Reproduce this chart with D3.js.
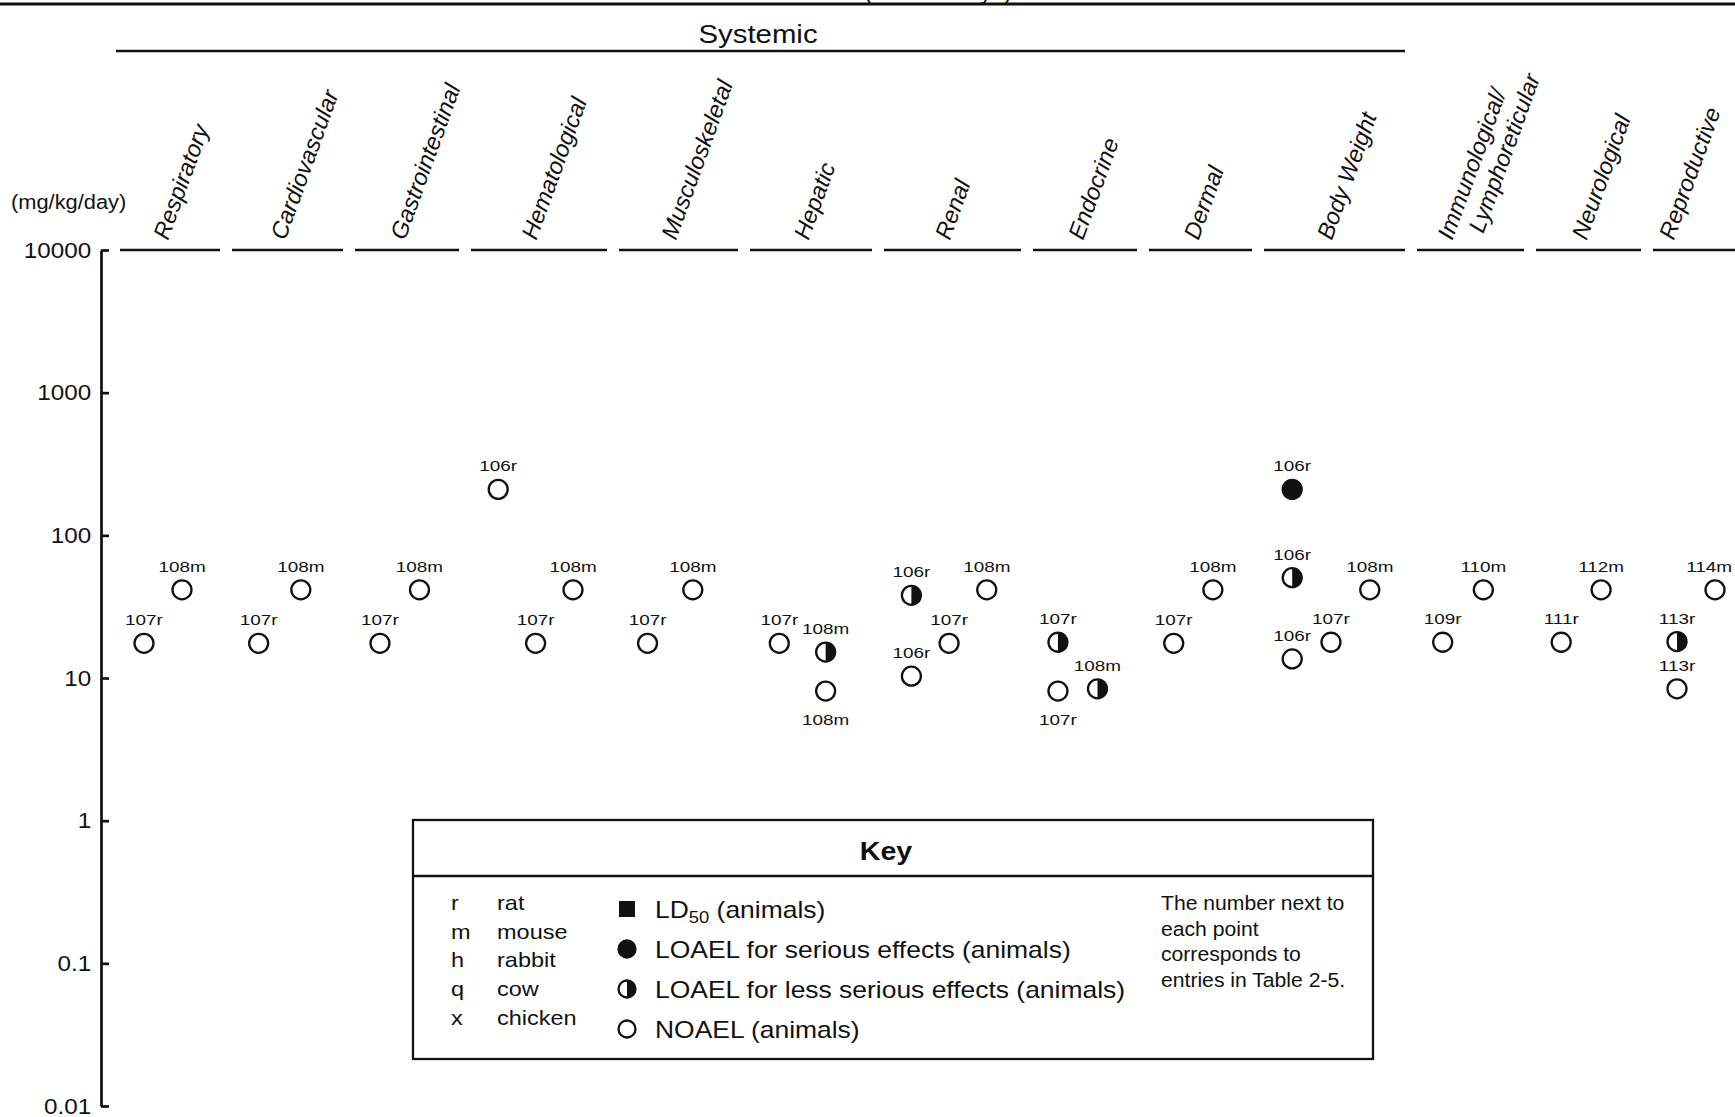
<!DOCTYPE html>
<html><head><meta charset="utf-8">
<script src="https://cdn.jsdelivr.net/npm/d3@7"></script>
<style>
body{margin:0;background:#fff}
svg{display:block}
text{font-family:"Liberation Sans",Arial,Helvetica,sans-serif;fill:#111}
</style></head>
<body><svg id="chart" width="1735" height="1117"></svg>
<script>
// ---------------- DATA ----------------
const categories = ["Respiratory","Cardiovascular","Gastrointestinal","Hematological","Musculoskeletal","Hepatic","Renal","Endocrine","Dermal","Body Weight","Immunological/\nLymphoreticular","Neurological","Reproductive"];
const groupTitle = "Systemic";
const periodTitle = "Intermediate (15-364 days)";
const yUnit = "(mg/kg/day)";
const yTickValues = [10000,1000,100,10,1,0.1,0.01];
const yTickLabels = ["10000","1000","100","10","1","0.1","0.01"];

// one entry per plotted point (parallel arrays)
const ptCategory = [0,0,1,1,2,2,3,3,3,4,4,5,5,5,6,6,6,6,7,7,7,8,8,9,9,9,9,9,10,10,11,11,12,12,12];
const ptColumn   = [0,1,0,1,0,1,0,1,2,0,1,0,1,1,0,0,1,2,0,0,1,0,1,0,0,0,1,2,0,1,0,1,0,0,1];
const ptDose     = [17.5,41.5,17.5,41.5,17.5,41.5,210,17.5,41.5,17.5,41.5,17.5,15.2,8.1,38,10.3,17.5,41.5,17.8,8.1,8.4,17.5,41.5,210,50.5,13.6,17.8,41.5,17.8,41.5,17.8,41.5,18,8.4,41.5];
const ptStudy    = [107,108,107,108,107,108,106,107,108,107,108,107,108,108,106,106,107,108,107,107,108,107,108,106,106,106,107,108,109,110,111,112,113,113,114];
const ptSpecies  = ["r","m","r","m","r","m","r","r","m","r","m","r","m","m","r","r","r","m","r","r","m","r","m","r","r","r","r","m","r","m","r","m","r","r","m"];
const ptEffect   = ["N","N","N","N","N","N","N","N","N","N","N","N","L","N","L","N","N","N","L","N","L","N","N","S","L","N","N","N","N","N","N","N","L","N","N"];

const speciesCodes = ["r","m","h","q","x"];
const speciesNames = ["rat","mouse","rabbit","cow","chicken"];
const keyEffects = ["LD50","S","L","N"];
const keyEffectTexts = ["(animals)","LOAEL for serious effects (animals)","LOAEL for less serious effects (animals)","NOAEL (animals)"];
const noteLines = ["The number next to","each point","corresponds to","entries in Table 2-5."];

// ---------------- LAYOUT ----------------
const W = 1735, H = 1117;
const AXIS_X = 101;
const BAND_X0 = 120, BAND_GAP = 12;
const BAND_WIDTHS = [100,111,104,136,119,122,137,104,103,141,107,105,100];
const LABEL_BELOW = new Set([13,19]);   // point indices whose label sits under the symbol
const R = 9.5;
const SX = 1.12;                         // horizontal stretch of the scanned lettering
const PT_SX = 1.22;
const CAT_ANGLE = 70, CAT_FONT = 23.5;

const svg = d3.select("#chart");

const y = d3.scaleLog().domain([10000, 0.01]).range([250, 1106]);

const bandStarts = [];
BAND_WIDTHS.reduce((acc, w) => { bandStarts.push(acc); return acc + w + BAND_GAP; }, BAND_X0);
const xBand = d3.scaleOrdinal().domain(d3.range(categories.length)).range(bandStarts);
const wBand = d3.scaleOrdinal().domain(d3.range(categories.length)).range(BAND_WIDTHS);

const nCols = d3.rollup(d3.range(ptCategory.length), v => d3.max(v, i => ptColumn[i]) + 1, i => ptCategory[i]);
function colScale(ci) {
  const n = nCols.get(ci) || 1, s = xBand(ci), w = wBand(ci);
  const f = n === 3 ? [0.2, 0.75] : [0.24, 0.62];
  return d3.scalePoint().domain(d3.range(n)).range([s + f[0] * w, s + f[1] * w]);
}

function stretchedText(sel, x, yy, sx) {
  return sel.append("text").attr("transform", `translate(${x},${yy}) scale(${sx},1)`);
}

// ---------------- HEADER ----------------
svg.append("line").attr("x1", 0).attr("x2", W).attr("y1", 4).attr("y2", 4)
  .attr("stroke", "#111").attr("stroke-width", 2.8);
stretchedText(svg, 1012, -1, 1).attr("text-anchor", "end")
  .attr("font-size", 24).text(periodTitle);

svg.append("line").attr("x1", xBand(0) - 4).attr("x2", xBand(9) + wBand(9)).attr("y1", 51).attr("y2", 51)
  .attr("stroke", "#111").attr("stroke-width", 2.5);
stretchedText(svg, 758, 43, 1.13).attr("text-anchor", "middle")
  .attr("font-size", 26).text(groupTitle);

stretchedText(svg, 11, 209, SX).attr("font-size", 19.5).text(yUnit);

// category segments + rotated labels
const cat = svg.append("g").selectAll("g").data(categories).join("g");
cat.append("line")
  .attr("x1", (d, i) => xBand(i)).attr("x2", (d, i) => xBand(i) + wBand(i))
  .attr("y1", y(10000)).attr("y2", y(10000))
  .attr("stroke", "#111").attr("stroke-width", 2.7);
const rad = CAT_ANGLE * Math.PI / 180;
cat.append("text")
  .attr("font-size", CAT_FONT).attr("font-style", "italic")
  .each(function(d, i) {
    const t = d3.select(this);
    const lines = d.split("\n");
    lines.forEach((line, k) => {
      t.append("tspan").attr("x", k * 17).attr("dy", k ? "1.14em" : 0).text(line);
    });
    const len = d3.max(t.selectAll("tspan").nodes(), n => n.getComputedTextLength());
    let ax = xBand(i) + 0.48 * wBand(i) - (lines.length - 1) * 16;
    ax = Math.min(ax, W - 14 - len * Math.cos(rad));   // keep the label inside the page
    t.attr("transform", `translate(${ax},241) rotate(${-CAT_ANGLE})`);
  });

// ---------------- AXIS ----------------
const axis = d3.axisLeft(y).tickValues(yTickValues)
  .tickFormat((d, i) => yTickLabels[i]).tickSizeInner(-8).tickSizeOuter(0).tickPadding(9);
const ga = svg.append("g").attr("transform", `translate(${AXIS_X},0)`).call(axis);
ga.select(".domain").attr("stroke", "#111").attr("stroke-width", 2.7);
ga.selectAll(".tick line").attr("stroke", "#111").attr("stroke-width", 2.7);
ga.selectAll(".tick text").attr("font-size", 22).attr("fill", "#111")
  .attr("font-family", '"Liberation Sans",Arial,sans-serif')
  .attr("transform", "scale(1.1,1)");

// ---------------- SYMBOLS ----------------
function drawSymbol(g, eff, r) {
  if (eff === "LD50") {
    g.append("rect").attr("x", -r).attr("y", -r).attr("width", 2 * r).attr("height", 2 * r).attr("fill", "#111");
  } else if (eff === "S") {
    g.append("circle").attr("r", r).attr("fill", "#111").attr("stroke", "#111").attr("stroke-width", 2.3);
  } else if (eff === "L") {
    g.append("circle").attr("r", r).attr("fill", "#fff").attr("stroke", "#111").attr("stroke-width", 2.3);
    g.append("path").attr("d", `M0,${-r}A${r},${r} 0 0 1 0,${r}Z`).attr("fill", "#111");
  } else {
    g.append("circle").attr("r", r).attr("fill", "#fff").attr("stroke", "#111").attr("stroke-width", 2.3);
  }
}

// ---------------- POINTS ----------------
const pts = d3.range(ptCategory.length).map(i => ({
  i, cx: colScale(ptCategory[i])(ptColumn[i]), cy: y(ptDose[i]),
  eff: ptEffect[i], label: `${ptStudy[i]}${ptSpecies[i]}`
}));
const pg = svg.append("g").selectAll("g").data(pts).join("g")
  .attr("transform", d => `translate(${d.cx},${d.cy})`);
pg.each(function(d) { drawSymbol(d3.select(this), d.eff, R); });
pg.append("text")
  .attr("text-anchor", "middle").attr("font-size", 15.5).text(d => d.label)
  .each(function(d) {
    const half = this.getComputedTextLength() * PT_SX / 2;
    const dx = Math.min(0, W - 3 - half - d.cx);          // keep the label inside the page
    d3.select(this).attr("transform",
      `translate(${dx},${LABEL_BELOW.has(d.i) ? 34 : -18}) scale(${PT_SX},1)`);
  });

// ---------------- KEY ----------------
const key = svg.append("g");
key.append("rect").attr("x", 413).attr("y", 820).attr("width", 960).attr("height", 239)
  .attr("fill", "#fff").attr("stroke", "#111").attr("stroke-width", 2.3);
key.append("line").attr("x1", 413).attr("x2", 1373).attr("y1", 876).attr("y2", 876)
  .attr("stroke", "#111").attr("stroke-width", 2.3);
stretchedText(key, 886, 860, 1.1).attr("text-anchor", "middle")
  .attr("font-size", 26).attr("font-weight", "bold").text("Key");

const sp = key.append("g").selectAll("g").data(speciesCodes).join("g")
  .attr("transform", (d, i) => `translate(0,${910 + i * 28.7})`);
sp.append("text").attr("transform", `translate(451,0) scale(${SX},1)`).attr("font-size", 21).text(d => d);
sp.append("text").attr("transform", `translate(497,0) scale(${SX},1)`).attr("font-size", 21).text((d, i) => speciesNames[i]);

const ef = key.append("g").selectAll("g").data(keyEffects).join("g")
  .attr("transform", (d, i) => `translate(0,${918 + i * 40})`);
ef.each(function(d) {
  const g = d3.select(this).append("g").attr("transform", "translate(627,-9)");
  drawSymbol(g, d, d === "LD50" ? 8 : 8.5);
});
ef.append("text").attr("transform", "translate(655,0) scale(1.15,1)").attr("font-size", 23).each(function(d, i) {
  const t = d3.select(this);
  if (d === "LD50") {
    t.append("tspan").text("LD");
    t.append("tspan").attr("font-size", 16).attr("dy", 5).text("50");
    t.append("tspan").attr("dy", -5).text(" " + keyEffectTexts[i]);
  } else t.text(keyEffectTexts[i]);
});

key.append("g").selectAll("text").data(noteLines).join("text")
  .attr("transform", (d, i) => `translate(1161,${910 + i * 25.7}) scale(1.085,1)`)
  .attr("font-size", 19.5).text(d => d);
</script></body></html>
